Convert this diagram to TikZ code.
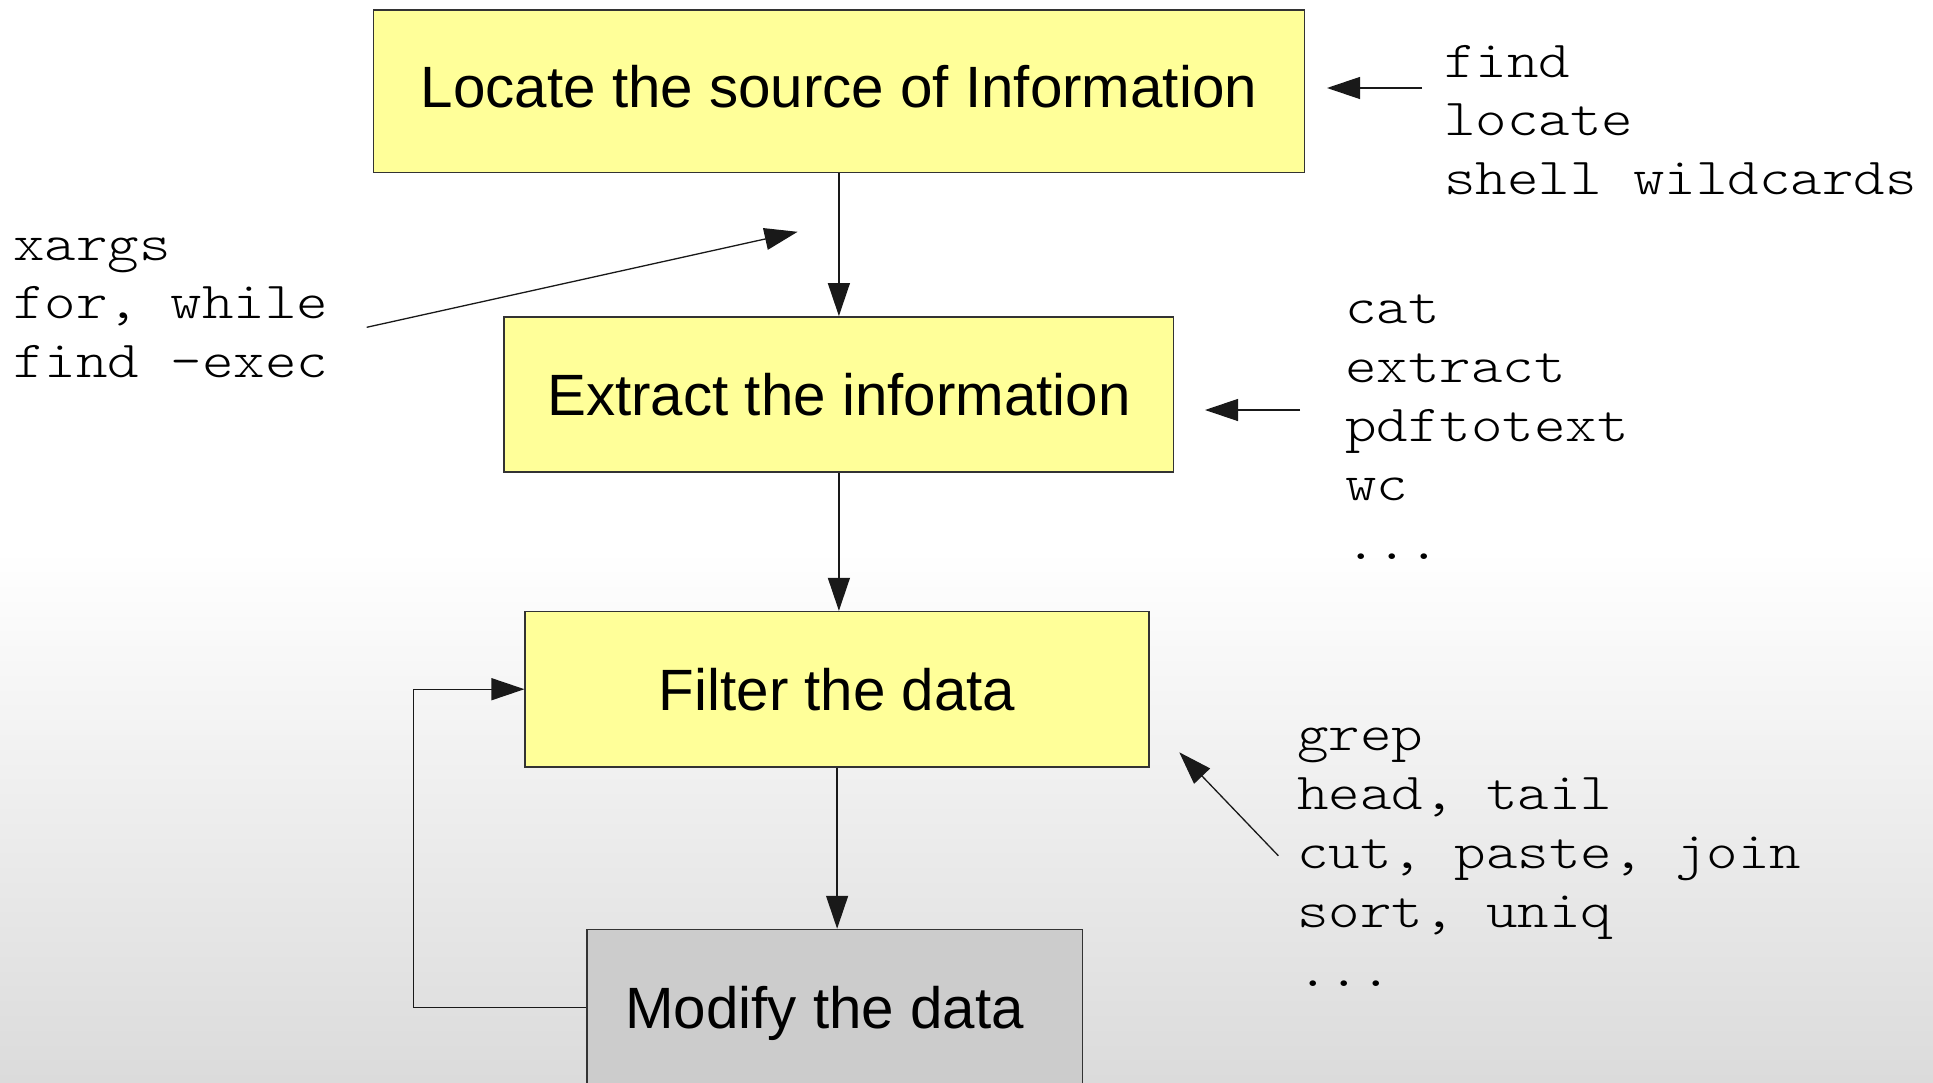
\documentclass[tikz,border=0pt]{standalone}
\usepackage{fontspec}
\setmainfont{Liberation Sans}
\newfontfamily\monof{lmmonolt10-regular.otf}[FakeStretch=1.154]
\usetikzlibrary{arrows.meta}
\definecolor{boxyellow}{HTML}{FFFF99}
\definecolor{boxgray}{HTML}{CCCCCC}
\definecolor{bgbot}{HTML}{DBDBDB}
\newcommand\mydots{...}
\pgfdeclareverticalshading{bgshade}{100bp}{color(0bp)=(bgbot); color(25bp)=(bgbot); color(49.6bp)=(white); color(100bp)=(white)}
\begin{document}
\begin{tikzpicture}[x=1pt,y=-1pt,
  box/.style={draw=black!80, line width=1.5pt, inner sep=0pt, text height=41.7pt, text depth=0pt, font=\fontsize{58.3}{70}\selectfont},
  arr/.style={draw=black!90, line width=1.3pt, -{Triangle[length=33pt,width=22pt]}},
  mono/.style={anchor=base west, inner sep=0pt, font=\monof\fontsize{52}{58.7}\selectfont}]
\path[use as bounding box] (0,0) rectangle (1933,1082);
\shade[shading=bgshade] (0,0) rectangle (1933,1082);
\clip (0,0) rectangle (1933,1082);

% boxes
\node[box, fill=boxyellow, minimum width=930.8pt, minimum height=162.7pt, text depth=10pt] (locate) at (838.9,91.25) {Locate the source of Information};
\node[box, fill=boxyellow, minimum width=669.4pt, minimum height=155.4pt] (extract) at (838.9,394.5) {Extract the information};
\node[box, fill=boxyellow, minimum width=623.8pt, minimum height=155.3pt] (filter) at (837.1,689.2) {Filter the data};
\node[box, fill=boxgray, minimum width=495.6pt, minimum height=155.6pt] (modify) at (834.6,1007.3) {\hspace*{-20pt}Modify the data};

% main flow
\draw[arr] (locate.south) -- (extract.north);
\draw[arr] (extract.south) -- (extract.south |- filter.north);
\draw[arr] (filter.south) -- (filter.south |- modify.north);
\draw[arr] (modify.west) -- ++(-172.8,0) |- (filter.west);

% side arrows
\coordinate (fs) at (1422,88);   \coordinate (fe) at (1327,88);
\coordinate (cs) at (1300,410);  \coordinate (ce) at (1205,410);
\coordinate (gs) at (1278.3,855.7); \coordinate (ge) at (1179.3,752.3);
\coordinate (xs) at (366.7,327.3); \coordinate (xe) at (797.6,231.8);
\draw[arr] (fs) -- (fe);
\draw[arr] (cs) -- (ce);
\draw[arr] (gs) -- (ge);
\draw[arr] (xs) -- (xe);

% command lists
\foreach \t [count=\i] in {find,locate,shell wildcards}
  \node[mono] (f\i) at (1444,77.3+58.5*\i-58.5) {\t};
\foreach \t [count=\i] in {cat,extract,pdftotext,wc,\mydots}
  \node[mono] (c\i) at (1345,323.3+59*\i-59) {\t};
\foreach \t [count=\i] in {xargs,{for, while},find -exec}
  \node[mono] (x\i) at (13,260+58.7*\i-58.7) {\t};
\foreach \t [count=\i] in {grep,{head, tail},{cut, paste, join},{sort, uniq},\mydots}
  \node[mono] (g\i) at (1297,750+59.2*\i-59.2) {\t};
\end{tikzpicture}
\end{document}
